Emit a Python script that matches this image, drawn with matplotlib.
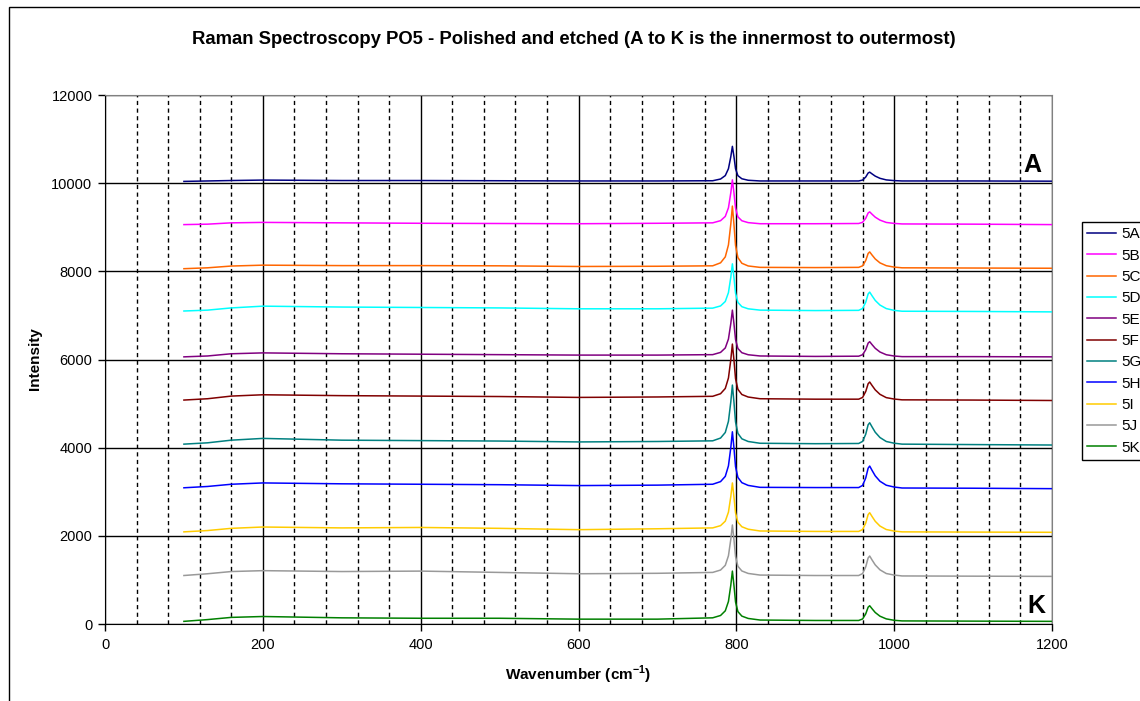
import numpy as np
import matplotlib.pyplot as plt
from matplotlib.patches import Rectangle
from matplotlib.ticker import MultipleLocator

plt.rcParams['font.family'] = ['Liberation Sans', 'DejaVu Sans']
plt.rcParams['mathtext.fontset'] = 'custom'
plt.rcParams['mathtext.rm'] = 'Liberation Sans'
plt.rcParams['mathtext.bf'] = 'Liberation Sans:bold'

# wavenumber points (cm-1)
wavenumber = [100, 130, 160, 200, 300, 400, 500, 600, 700, 770,
              780, 786, 790, 793, 795, 797, 799, 802, 807, 815,
              830, 900, 955, 960, 964, 967, 969, 972, 976, 982,
              990, 1000, 1010, 1100, 1200]

s5A = [10040, 10050, 10060, 10070, 10060, 10060, 10055, 10050, 10050, 10055,
       10094, 10172, 10328, 10601, 10835, 10600, 10326, 10170, 10100, 10066,
       10050, 10050, 10050, 10070, 10140, 10230, 10250, 10210, 10160, 10110,
       10074, 10058, 10050, 10050, 10045]
s5B = [9060, 9070, 9100, 9110, 9100, 9090, 9085, 9080, 9090, 9100,
       9149, 9246, 9441, 9783, 10075, 9778, 9433, 9236, 9147, 9105,
       9080, 9080, 9085, 9112, 9204, 9323, 9349, 9295, 9229, 9162,
       9109, 9087, 9075, 9070, 9060]
s5C = [8060, 8080, 8120, 8140, 8130, 8130, 8125, 8110, 8115, 8125,
       8193, 8328, 8599, 9074, 9480, 9064, 8586, 8311, 8183, 8122,
       8090, 8085, 8090, 8125, 8248, 8405, 8440, 8369, 8281, 8192,
       8128, 8096, 8080, 8075, 8070]
s5D = [7100, 7120, 7170, 7210, 7190, 7180, 7170, 7150, 7150, 7165,
       7215, 7316, 7517, 7869, 8170, 7859, 7502, 7296, 7198, 7150,
       7120, 7110, 7115, 7157, 7301, 7487, 7528, 7445, 7340, 7235,
       7155, 7114, 7095, 7090, 7080]
s5E = [6060, 6080, 6130, 6150, 6130, 6120, 6110, 6100, 6100, 6110,
       6161, 6262, 6464, 6817, 7120, 6810, 6454, 6249, 6154, 6108,
       6080, 6070, 6075, 6108, 6223, 6371, 6404, 6337, 6254, 6170,
       6108, 6079, 6065, 6065, 6060]
s5F = [5080, 5110, 5170, 5200, 5180, 5170, 5160, 5140, 5150, 5165,
       5224, 5343, 5580, 5995, 6350, 5985, 5565, 5323, 5206, 5149,
       5110, 5100, 5100, 5139, 5276, 5450, 5489, 5410, 5311, 5210,
       5135, 5103, 5085, 5080, 5070]
s5G = [4080, 4110, 4170, 4210, 4170, 4160, 4150, 4130, 4140, 4155,
       4218, 4345, 4598, 5041, 5420, 5031, 4583, 4325, 4201, 4140,
       4100, 4090, 4095, 4142, 4307, 4519, 4565, 4470, 4350, 4230,
       4140, 4101, 4080, 4070, 4060]
s5H = [3090, 3120, 3170, 3200, 3180, 3170, 3160, 3140, 3150, 3170,
       3230, 3349, 3587, 4003, 4360, 3991, 3569, 3324, 3206, 3144,
       3100, 3095, 3095, 3144, 3314, 3534, 3583, 3484, 3361, 3238,
       3148, 3107, 3085, 3080, 3070]
s5I = [2090, 2120, 2170, 2200, 2180, 2190, 2170, 2140, 2160, 2180,
       2231, 2333, 2537, 2894, 3200, 2882, 2519, 2308, 2206, 2150,
       2110, 2100, 2100, 2143, 2291, 2482, 2524, 2438, 2330, 2222,
       2143, 2108, 2090, 2085, 2080]
s5J = [1100, 1140, 1190, 1210, 1190, 1200, 1170, 1140, 1150, 1170,
       1224, 1331, 1547, 1923, 2246, 1913, 1532, 1309, 1203, 1147,
       1110, 1100, 1100, 1144, 1299, 1498, 1542, 1452, 1341, 1229,
       1145, 1110, 1090, 1085, 1080]
s5K = [60, 100, 150, 170, 140, 130, 130, 110, 110, 140,
       193, 299, 511, 882, 1200, 874, 499, 281, 179, 126,
       90, 80, 80, 114, 231, 381, 414, 346, 261, 177,
       116, 84, 70, 65, 60]

names = ['5A', '5B', '5C', '5D', '5E', '5F', '5G', '5H', '5I', '5J', '5K']
spectra = [s5A, s5B, s5C, s5D, s5E, s5F, s5G, s5H, s5I, s5J, s5K]
colours = ['#000080', '#FF00FF', '#FF6600', '#00FFFF', '#800080', '#800000',
           '#008080', '#0000FF', '#FFCC00', '#999999', '#008000']

W, H = 1140, 701
fig = plt.figure(figsize=(W / 100, H / 100), dpi=100)
ax = fig.add_axes([105 / W, 1 - 624 / H, 947 / W, 529 / H])

for name, y, c in zip(names, spectra, colours):
    ax.plot(wavenumber, y, color=c, lw=1.1, label=name)

ax.set_xlim(0, 1200)
ax.set_ylim(0, 12000)
ax.xaxis.set_major_locator(MultipleLocator(200))
ax.xaxis.set_minor_locator(MultipleLocator(40))
ax.yaxis.set_major_locator(MultipleLocator(2000))
ax.grid(which='major', axis='both', color='black', lw=1, ls='-')
ax.grid(which='minor', axis='x', color='black', lw=1, ls=(0, (3, 2.5)))
ax.set_axisbelow(True)
ax.tick_params(which='major', direction='out', length=5, width=1,
               labelsize=10.5, colors='black')
ax.tick_params(axis='x', pad=5)
ax.tick_params(axis='y', pad=4)
ax.tick_params(which='minor', length=0)
for side in ['top', 'right']:
    ax.spines[side].set_color('#808080')

ax.text(1175, 10410, 'A', fontsize=18, fontweight='bold', ha='center', va='center')
ax.text(1180, 408, 'K', fontsize=18, fontweight='bold', ha='center', va='center')

fig.text(574 / W, 1 - 39 / H,
         'Raman Spectroscopy PO5 - Polished and etched (A to K is the innermost to outermost)',
         ha='center', va='center', fontsize=13.3, fontweight='bold')
fig.text(35 / W, 1 - 359 / H, 'Intensity', rotation=90, ha='center', va='center',
         fontsize=11, fontweight='bold')
fig.text(578 / W, 1 - 675 / H, r'Wavenumber (cm$^{\mathbf{-1}}$)',
         ha='center', va='center', fontsize=11, fontweight='bold')

leg = fig.legend(loc='upper left', bbox_to_anchor=(1082 / W, 1 - 222 / H),
                 fancybox=False, edgecolor='black', framealpha=1, fontsize=11,
                 handlelength=1.9, handletextpad=0.3, labelspacing=0.48,
                 borderpad=0.35, borderaxespad=0)
leg.get_frame().set_linewidth(1)

fig.add_artist(Rectangle((9 / W, -0.5), 1.0, (1 - 7 / H) + 0.5, transform=fig.transFigure,
                         fill=False, ec='black', lw=1, clip_on=False))

fig.savefig('out.png', dpi=100)
